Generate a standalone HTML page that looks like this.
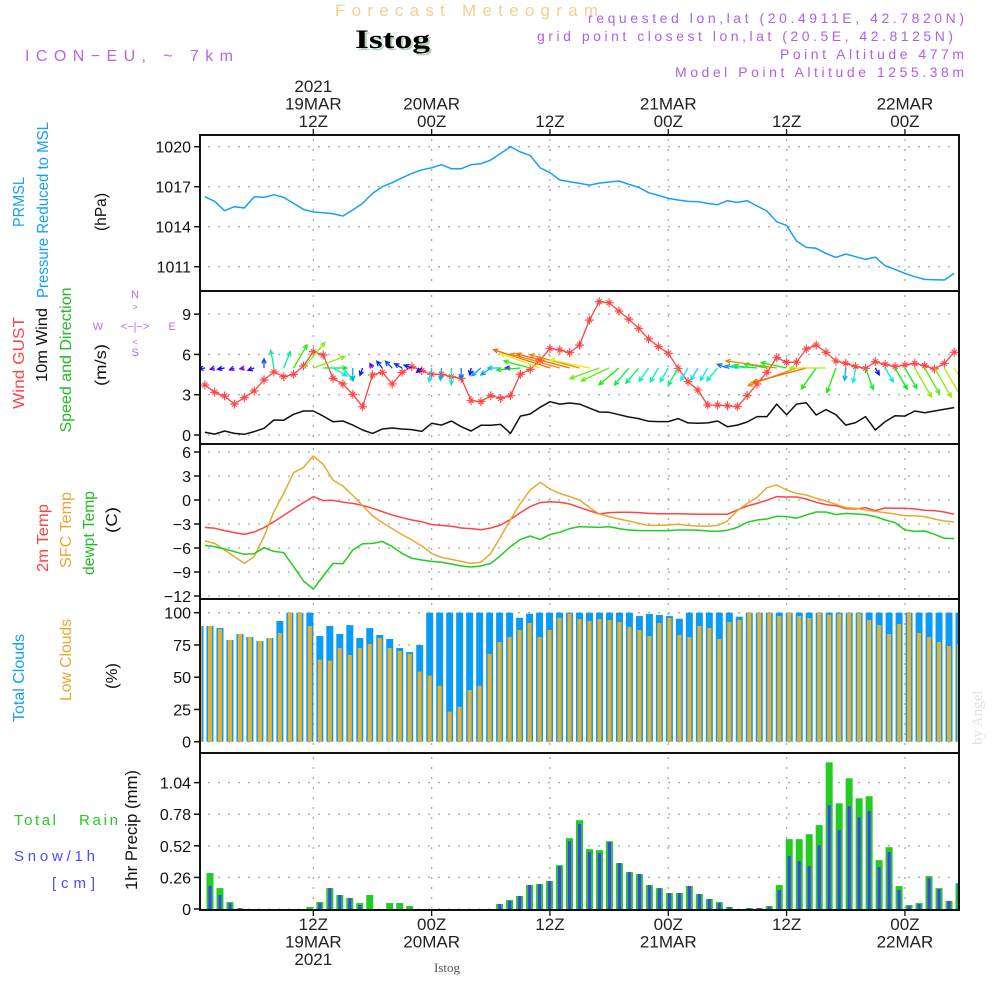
<!DOCTYPE html>
<html><head><meta charset="utf-8"><title>Forecast Meteogram Istog</title>
<style>
html,body{margin:0;padding:0;background:#fff;}
svg{display:block;}
text{font-family:"Liberation Sans","DejaVu Sans",sans-serif;}
</style></head>
<body>
<svg id="chart" width="1000" height="1000" viewBox="0 0 1000 1000" xmlns="http://www.w3.org/2000/svg">
<rect x="0" y="0" width="1000" height="1000" fill="#fff"/>
<text x="335" y="16" font-size="17" fill="#f3cf90" textLength="263" lengthAdjust="spacing">Forecast Meteogram</text>
<text x="357" y="50" font-size="26" font-weight="bold" style="font-family:'Liberation Serif',serif" fill="#b8d4b8" textLength="75" lengthAdjust="spacingAndGlyphs">Istog</text>
<text x="355" y="48" font-size="26" font-weight="bold" style="font-family:'Liberation Serif',serif" fill="#000" textLength="75" lengthAdjust="spacingAndGlyphs">Istog</text>
<text x="25" y="61" font-size="16" fill="#b565f0" textLength="208" lengthAdjust="spacing">ICON−EU, ~ 7km</text>
<text x="588" y="23" font-size="14" fill="#b060e8" textLength="376" lengthAdjust="spacing">requested lon,lat (20.4911E, 42.7820N)</text>
<text x="537" y="41" font-size="14" fill="#b060e8" textLength="416" lengthAdjust="spacing">grid point closest lon,lat (20.5E, 42.8125N)</text>
<text x="780" y="59" font-size="14" fill="#b060e8" textLength="184" lengthAdjust="spacing">Point Altitude 477m</text>
<text x="675" y="77" font-size="14" fill="#b060e8" textLength="289" lengthAdjust="spacing">Model Point Altitude 1255.38m</text>
<g id="grid"></g>
<g id="marks"></g>
<g id="frames"></g>
<g id="labels"></g>
<g font-size="11" fill="#b070f0">
<text x="135" y="298" text-anchor="middle">N</text>
<text x="98" y="330" text-anchor="middle">W</text>
<text x="172" y="330" text-anchor="middle">E</text>
<text x="135" y="356" text-anchor="middle">S</text>
<text x="135" y="330" text-anchor="middle" font-size="11">&lt;−|−&gt;</text>
<text x="135" y="310" text-anchor="middle" font-size="9">&gt;</text>
<text x="135" y="345" text-anchor="middle" font-size="9">&lt;</text>
</g>
<text x="0" y="0" transform="translate(982,745) rotate(-90)" font-size="15" fill="#dde4dd" style="font-family:'Liberation Serif',serif">by Angel</text>
<text x="447" y="972" text-anchor="middle" font-size="13" fill="#555" style="font-family:'Liberation Serif',serif">Istog</text>
</svg>
<script>
// ---- data (hourly, t = 1..77 hours from 19MAR 00Z) ----
const pressure = [1016.25,1015.9,1015.2,1015.5,1015.4,1016.25,1016.2,1016.4,1016.2,1015.75,1015.3,1015.1,1015.05,1014.97,1014.8,1015.25,1015.75,1016.5,1017,1017.3,1017.67,1018,1018.27,1018.42,1018.65,1018.35,1018.35,1018.65,1018.72,1019,1019.5,1020,1019.6,1019.35,1018.42,1018.05,1017.5,1017.37,1017.25,1017.12,1017.27,1017.35,1017.43,1017.18,1016.95,1016.55,1016.35,1016.12,1016,1015.9,1015.88,1015.75,1015.65,1015.95,1015.82,1015.95,1015.55,1015.17,1014.37,1014.1,1012.93,1012.45,1012.38,1012,1011.7,1011.95,1011.75,1011.55,1011.72,1011.07,1010.8,1010.5,1010.25,1010.05,1010.02,1010,1010.5];
const gust = [3.72,3.18,2.9,2.3,2.78,3.28,4.1,4.7,4.34,4.52,5.14,6.2,5.96,4.22,3.8,3.03,2.1,4.47,4.67,3.8,4.67,5.09,4.79,4.52,4.52,4.34,4.22,2.56,2.48,2.93,2.73,2.93,4.52,4.89,5.58,6.45,6.33,6.13,6.7,8.56,9.93,9.85,9.23,8.62,7.94,7.15,6.58,6.08,4.96,3.97,3.35,2.23,2.23,2.18,2.11,2.93,3.8,4.67,5.76,5.41,5.41,6.4,6.7,6.16,5.51,5.34,5.09,4.96,5.46,5.26,5.09,5.21,5.34,5.16,4.91,5.34,6.16];
const wind10m = [0.2,0.07,0.3,0.12,0.05,0.25,0.5,1.12,1.1,1.54,1.79,1.79,1.41,0.99,1.04,0.74,0.37,0.12,0.45,0.52,0.45,0.4,0.27,0.87,0.74,1.04,0.62,0.3,0.72,0.72,0.79,0.12,1.41,1.56,2.06,2.48,2.3,2.38,2.3,2.0,1.71,1.69,1.51,1.34,1.22,1.02,1.0,1.0,1.22,0.9,0.87,0.9,1.04,0.62,0.74,0.97,1.37,1.37,2.3,1.51,2.3,2.4,1.49,1.89,1.51,0.74,0.92,1.37,0.37,1.0,1.44,1.41,1.79,1.66,1.79,1.91,2.04];
const windDir = [190,195,190,200,190,200,90,100,68,60,50,20,0,-30,-50,-90,250,120,130,135,150,160,220,260,265,270,270,260,220,215,180,180,185,165,160,162,164,165,165,168,200,205,220,230,230,235,240,240,240,240,240,240,230,160,170,172,175,170,172,168,200,195,235,180,250,265,260,290,300,300,300,300,300,300,300,300,300];
const temp2m = [-3.42,-3.54,-3.83,-4.08,-4.3,-4.0,-3.46,-2.71,-1.92,-1.13,-0.33,0.42,-0.08,-0.04,-0.29,-0.42,-0.67,-1.04,-1.46,-1.88,-2.21,-2.5,-2.71,-3.08,-3.17,-3.29,-3.5,-3.58,-3.71,-3.5,-3.12,-2.42,-1.58,-0.83,-0.33,-0.21,-0.29,-0.5,-0.92,-1.33,-1.75,-1.58,-1.54,-1.54,-1.58,-1.67,-1.71,-1.71,-1.71,-1.75,-1.79,-1.79,-1.79,-1.79,-1.25,-0.75,-0.42,-0.04,0.42,0.38,0.38,0.12,-0.29,-0.58,-0.71,-1.08,-1.12,-0.96,-1.33,-1.0,-1.04,-1.04,-1.12,-1.29,-1.33,-1.5,-1.79];
const tempSfc = [-5.12,-5.42,-6.25,-7.08,-7.92,-7.08,-4.58,-1.46,0.83,3.42,4.08,5.5,4.46,2.5,1.75,0.58,-0.71,-1.96,-2.83,-3.58,-4.33,-5.0,-5.75,-6.67,-7.17,-7.42,-7.67,-7.92,-7.79,-6.67,-4.58,-2.42,-0.42,1.25,2.21,1.38,0.83,0.42,0.0,-0.92,-1.75,-2.08,-2.38,-2.62,-2.92,-3.17,-3.17,-3.12,-3.04,-3.17,-3.25,-3.29,-3.17,-2.62,-1.33,-0.42,0.33,1.54,1.88,1.25,0.83,0.62,0.21,-0.12,-0.54,-0.96,-1.04,-1.25,-1.42,-1.58,-1.75,-1.96,-1.96,-2.08,-2.38,-2.62,-2.75];
const dewpt = [-5.67,-5.83,-6.12,-6.46,-6.79,-6.71,-5.96,-6.42,-6.58,-8.33,-10.12,-11.12,-9.5,-7.92,-7.96,-6.25,-5.46,-5.42,-5.17,-5.83,-6.67,-7.29,-7.5,-7.67,-7.79,-8.0,-8.25,-8.38,-8.25,-7.92,-6.92,-5.83,-4.92,-4.5,-4.92,-4.33,-4.04,-3.58,-3.33,-3.38,-3.42,-3.33,-3.58,-3.75,-3.83,-3.83,-3.83,-3.83,-3.75,-3.75,-3.79,-3.88,-3.92,-3.79,-3.42,-2.79,-2.5,-2.38,-2.04,-2.08,-2.29,-1.88,-1.5,-1.5,-1.83,-1.67,-1.75,-1.83,-2.08,-2.5,-2.83,-3.75,-3.92,-3.88,-4.29,-4.79,-4.83];
// bar series (index 0..76)
const totalClouds = [89.7,89.7,88.1,78.8,83.5,81.1,78,80.4,93.5,100,100,100,81.9,89.7,83.5,90.4,80.4,88.1,82.7,79.6,72.6,69.5,74.9,100,100,100,100,100,100,100,100,100,96.1,99.2,100,100,100,100,100,100,100,100,100,100,97.4,99,98.2,97.4,95.3,100,100,100,100,100,96.9,100,100,100,100,100,100,100,100,100,100,100,100,100,100,100,100,100,100,100,100,100,100];
const lowClouds = [89.7,89.7,87.3,78.8,83.5,81.1,78,80.4,84.2,100,100,89.7,63.6,62.8,72.6,67.2,72.6,75.7,80.4,72.6,70.3,68,54.3,51.2,43.4,23.3,27.1,40.1,43.4,68,77.3,81.1,86.6,92,81.1,86.6,96.1,99.2,95.1,93.5,95.1,94.3,92.8,88.9,86.6,81.9,92,95.9,82.7,81.1,89.7,88.1,79.6,92.8,94.3,100,100,100,97.4,100,97.4,95.9,100,98.4,99.2,100,99.5,94.3,90.4,83.5,91.2,100,84.2,81.1,77.3,74.2,75.7];
const rain = [0,0.296,0.172,0.057,0.005,0,0,0,0,0,0,0.016,0.057,0.172,0.115,0.09,0.049,0.115,0,0.049,0.049,0.025,0,0,0,0,0,0,0,0,0.041,0.074,0.107,0.197,0.205,0.23,0.361,0.583,0.731,0.493,0.484,0.558,0.378,0.304,0.287,0.197,0.172,0.131,0.131,0.189,0.123,0.082,0.057,0.016,0,0.008,0.008,0.025,0.197,0.575,0.575,0.616,0.69,1.207,0.87,1.076,0.911,0.928,0.402,0.509,0.189,0.033,0.049,0.271,0.172,0.066,0.213];
const snow = [0,0.19,0.115,0.049,0.008,0,0,0,0,0,0,0,0.049,0.172,0.115,0.09,0.033,0,0,0,0,0,0,0,0,0,0,0,0,0,0.041,0.066,0.107,0.197,0.205,0.23,0.353,0.558,0.698,0.468,0.46,0.55,0.378,0.304,0.287,0.197,0.172,0.131,0.131,0.189,0.123,0.082,0.049,0.016,0,0.008,0.008,0.02,0.156,0.435,0.394,0.353,0.525,0.854,0.649,0.846,0.755,0.805,0.345,0.468,0.156,0.025,0.041,0.255,0.164,0.066,0.213];
// axis tick labels
const pTicks = [1020,1017,1014,1011];
const wTicks = [9,6,3,0];
const tTicks = [6,3,0,-3,-6,-9,-12];
const cTicks = [100,75,50,25,0];
const rTicks = [1.04,0.78,0.52,0.26,0];
const timeTicksHours = [12,24,36,48,60,72];
const topLabels = [["2021","19MAR","12Z"],["","20MAR","00Z"],["","","12Z"],["","21MAR","00Z"],["","","12Z"],["","22MAR","00Z"]];
const bottomLabels = [["12Z","19MAR","2021"],["00Z","20MAR",""],["12Z","",""],["00Z","21MAR",""],["12Z","",""],["00Z","22MAR",""]];

// ---- scales ----
const X0=200, X1=959;
const xT = t => 195 + 9.86*t;
const xB = i => 200 + i*(759/76);
const yP = p => 146.7 + (1020-p)*(40/3);
const yW = v => 435 - v*13.43;
const yT = c => 500 - c*8;
const yC = p => 741.7 - p*1.29;
const yR = v => 909 - v*121.5;
const panels = [[135,291],[291,444],[444,599],[599,753],[753,910]];

const NS="http://www.w3.org/2000/svg";
function mk(parent, tag, attrs, txt){
  const e=document.createElementNS(NS,tag);
  for(const k in attrs) e.setAttribute(k,attrs[k]);
  if(txt!==undefined) e.textContent=txt;
  parent.appendChild(e); return e;
}
const G=document.getElementById('grid'), M=document.getElementById('marks'), F=document.getElementById('frames'), L=document.getElementById('labels');

const defs=mk(document.getElementById('chart'),'defs',{});
const cp=mk(defs,'clipPath',{id:'plotclip'});
mk(cp,'rect',{x:X0,y:135,width:X1-X0,height:775});
M.setAttribute('clip-path','url(#plotclip)');

function yAxis(ticks, ys, name, fmt){
  ticks.forEach(v=>{
    const y=ys(v);
    const g=mk(G,'line',{x1:X0+8,x2:X1-4,y1:y,y2:y,stroke:'#aaa','stroke-width':1.3,'stroke-dasharray':'2 8'});
    
    
    const tk=mk(F,'line',{x1:X0-6,x2:X0,y1:y,y2:y,stroke:'#111','stroke-width':1.5});
    
    
    const t=mk(L,'text',{x:X0-9,y:y+6,'text-anchor':'end','font-size':16,fill:'#111'},fmt?fmt(v):String(v).replace('-','−'));
    
    
  });
}
yAxis(pTicks,yP,'pressure-axis');
yAxis(wTicks,yW,'wind-axis');
yAxis(tTicks,yT,'temp-axis');
yAxis(cTicks,yC,'cloud-axis');
yAxis(rTicks,yR,'precip-axis',v=>v===0?'0':v.toFixed(2));

timeTicksHours.forEach((h,k)=>{
  const x=xT(h);
  panels.forEach(pn=>{
    const l=mk(G,'line',{x1:x,x2:x,y1:pn[0]+4,y2:pn[1]-2,stroke:'#aaa','stroke-width':1.3,'stroke-dasharray':'2 8'});
    
    
  });
  const tt=mk(F,'line',{x1:x,x2:x,y1:129,y2:135,stroke:'#111','stroke-width':1.3});
  
  
  const tb=mk(F,'line',{x1:x,x2:x,y1:910,y2:916,stroke:'#111','stroke-width':1.3});
  
  
  topLabels[k].forEach((s,j)=>{ if(!s) return;
    const t=mk(L,'text',{x:x,y:92+j*17.5,'text-anchor':'middle','font-size':17,fill:'#222'},s);
    
    
  });
  bottomLabels[k].forEach((s,j)=>{ if(!s) return;
    const t=mk(L,'text',{x:x,y:930+j*17.5,'text-anchor':'middle','font-size':17,fill:'#222'},s);
    
    
  });
});

function series(arr, ys, color, name, w){
  const pts=arr.map((v,i)=>xT(i+1).toFixed(1)+','+ys(v).toFixed(1)).join(' ');
  const p=mk(M,'polyline',{points:pts,fill:'none',stroke:color,'stroke-width':w||1.5,'stroke-linejoin':'round'});
  
  
}

totalClouds.forEach((v,i)=>{
  const x=xB(i);
  const r=mk(M,'rect',{x:x-3.5,y:yC(v),width:7,height:yC(0)-yC(v),fill:'#0a9cf5'});
  
  
});
lowClouds.forEach((v,i)=>{
  const x=xB(i);
  const r=mk(M,'rect',{x:x-2,y:yC(v),width:4,height:yC(0)-yC(v),fill:'#e8b030'});
  
  
});
rain.forEach((v,i)=>{
  if(v<=0) return;
  const x=xB(i);
  const r=mk(M,'rect',{x:x-3.5,y:yR(v),width:7,height:yR(0)-yR(v),fill:'#22cc22'});
  
  
});
snow.forEach((v,i)=>{
  if(v<=0) return;
  const x=xB(i);
  const r=mk(M,'rect',{x:x-1.5,y:yR(v),width:3,height:yR(0)-yR(v),fill:'#4040ff'});
  
  
});

series(pressure,yP,'#15a0f5','pressure-line');
series(wind10m,yW,'#111','wind-10m-line');
series(gust,yW,'#ff4444','wind-gust-line',1.3);
gust.forEach((v,i)=>{
  const x=xT(i+1), y=yW(v);
  const m=mk(M,'path',{d:`M${x-4.5},${y}H${x+4.5}M${x},${y-4.5}V${y+4.5}M${x-2.5},${y-2.5}L${x+2.5},${y+2.5}M${x-2.5},${y+2.5}L${x+2.5},${y-2.5}`,stroke:'#ff4444','stroke-width':1.1,fill:'none'});
  
  
});
windDir.forEach((d,i)=>{
  const s=wind10m[i];
  const len=4+10*s+2*s*s*s;
  const a=d*Math.PI/180;
  const x0=xT(i+1), y0=368;
  const x1=x0+len*Math.cos(a), y1=y0-len*Math.sin(a);
  const hue=Math.max(25,275-s*105);
  const col=`hsl(${hue},95%,48%)`;
  const h=5, b1=a+Math.PI-0.45, b2=a+Math.PI+0.45;
  const dpath=`M${x0.toFixed(1)},${y0}L${x1.toFixed(1)},${y1.toFixed(1)}M${(x1+h*Math.cos(b1)).toFixed(1)},${(y1-h*Math.sin(b1)).toFixed(1)}L${x1.toFixed(1)},${y1.toFixed(1)}L${(x1+h*Math.cos(b2)).toFixed(1)},${(y1-h*Math.sin(b2)).toFixed(1)}`;
  const ar=mk(M,'path',{d:dpath,stroke:col,'stroke-width':1.3,fill:'none'});
  
  
});
series(temp2m,yT,'#ff4444','temp-2m-line');
series(tempSfc,yT,'#e8a830','temp-sfc-line');
series(dewpt,yT,'#22cc22','dewpoint-line');

panels.forEach((pn,k)=>{
  const r=mk(F,'rect',{x:X0,y:pn[0],width:X1-X0,height:pn[1]-pn[0],fill:'none',stroke:'#111','stroke-width':2});
  
  
});

function vtext(x,y,s,color,name,len,size){
  const t=mk(L,'text',{x:0,y:0,transform:`translate(${x},${y}) rotate(-90)`,'text-anchor':'middle','font-size':size||16,fill:color,textLength:len,lengthAdjust:'spacingAndGlyphs'},s);
  
  
}
vtext(24,202,'PRMSL','#15a0f5','pressure-title-prmsl',50);
vtext(48,210,'Pressure Reduced to MSL','#15a0f5','pressure-title',176);
vtext(106,212,'(hPa)','#111','pressure-unit',38);
vtext(24,363,'Wind GUST','#ff4444','gust-title',92);
vtext(47,345,'10m Wind','#111','wind-10m-title',74);
vtext(71,360,'Speed and Direction','#22bb22','wind-direction-title',145);
vtext(106,365,'(m/s)','#111','wind-unit',42);
vtext(48,538,'2m Temp','#ff4444','temp-2m-title',68);
vtext(71,530,'SFC Temp','#e8a830','temp-sfc-title',76);
vtext(94,533,'dewpt Temp','#22bb22','dewpoint-title',84);
vtext(117,520,'(C)','#111','temp-unit',26);
vtext(24,678,'Total Clouds','#15a0f5','total-clouds-title',88);
vtext(71,660,'Low Clouds','#e8a830','low-clouds-title',82);
vtext(117,676,'(%)','#111','cloud-unit',26);
vtext(137,830,'1hr Precip (mm)','#111','precip-title',120,17);
const tr=mk(L,'text',{x:14,y:825,'font-size':15,fill:'#22cc22',textLength:42,lengthAdjust:'spacing'},'Total');


const tr2=mk(L,'text',{x:79,y:825,'font-size':15,fill:'#22cc22',textLength:39,lengthAdjust:'spacing'},'Rain');


const ts=mk(L,'text',{x:14,y:861,'font-size':15,fill:'#4a4aff',textLength:81,lengthAdjust:'spacing'},'Snow/1h');


const tc=mk(L,'text',{x:52,y:888,'font-size':15,fill:'#4a4aff',textLength:43,lengthAdjust:'spacing'},'[cm]');


</script>
</body></html>
